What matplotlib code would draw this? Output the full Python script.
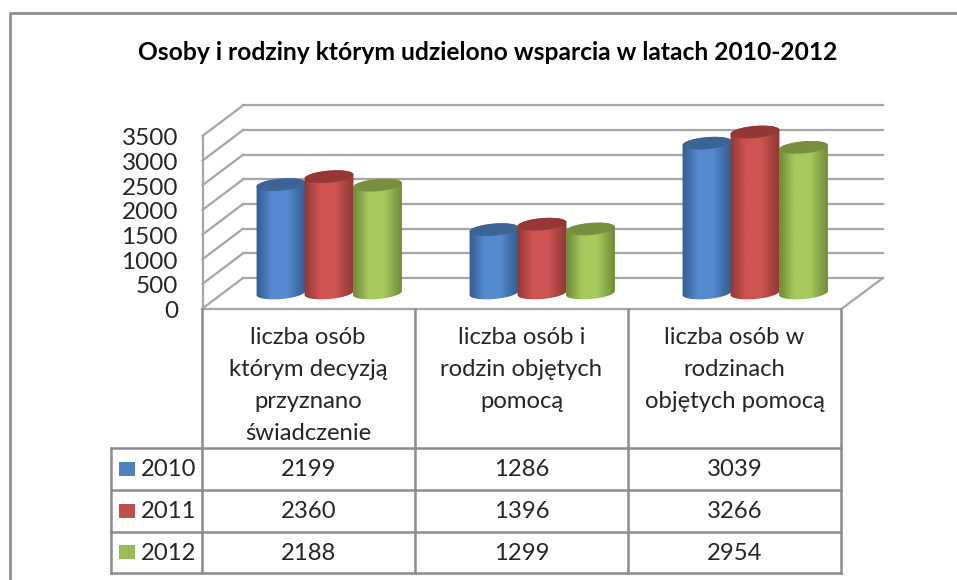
import numpy as np
import matplotlib
matplotlib.use("Agg")
import matplotlib.pyplot as plt
from matplotlib.patches import Polygon
from matplotlib.colors import LinearSegmentedColormap

plt.rcParams['font.family'] = ['Lato', 'DejaVu Sans']

title = "Osoby i rodziny którym udzielono wsparcia w latach 2010-2012"
categories = ["liczba osób\nktórym decyzją\nprzyznano\nświadczenie",
              "liczba osób i\nrodzin objętych\npomocą",
              "liczba osób w\nrodzinach\nobjętych pomocą"]
years = ["2010", "2011", "2012"]
values_2010 = [2199, 1286, 3039]
values_2011 = [2360, 1396, 3266]
values_2012 = [2188, 1299, 2954]
y_ticks = [0, 500, 1000, 1500, 2000, 2500, 3000, 3500]

W, H = 957, 580
GRID = '#a6a6a6'
TABLE = '#8c8c8c'
TEXT = '#262626'
# dark edge, mid, top cap and swatch for each series
shades = [('#2f5a8c', '#558ad0', '#3c6494', '#4f81bd'),
          ('#8c3533', '#cd5452', '#953735', '#c0504d'),
          ('#6b8436', '#a6ca5c', '#769040', '#9bbb59')]

# scale of the chart: one category = 213 px, 500 units = 24.65 px
PX_X = 213.0
PX_Y = 24.65 / 500
X0, Y0 = 329.0, 293.0

fig = plt.figure(figsize=(W / 100, H / 100), dpi=100)

# overlay in pixels for frame, walls and table
pix = fig.add_axes([0, 0, 1, 1])
pix.set_xlim(0, W)
pix.set_ylim(H, 0)
pix.axis('off')

# chart axes: x in categories, y in data values
ax = fig.add_axes([0, 0, 1, 1], zorder=2)
ax.axis('off')


def line(x, y, color=GRID, lw=1.6):
    pix.plot(x, y, color=color, lw=lw, solid_capstyle='projecting')


# outer frame
line([9.5, 9.5, W], [H, 13, 13], color='#8f8f8f', lw=2)

pix.text(488, 53, title, ha='center', va='center', fontsize=17.75,
         fontweight='bold', color='black')

# walls and floor of the 3D box
back_y = 278.0
front_y = 308.5
for v in y_ticks:
    dy = v * PX_Y
    if v > 0:
        line([243, 883], [back_y - dy, back_y - dy])
    line([202.5, 243], [front_y - dy, back_y - dy])
    pix.text(178, front_y - dy + 3, str(v), ha='right', va='center',
             fontsize=17.5, color=TEXT)
line([243, 883], [back_y, back_y])
line([202.5, 202.5], [front_y - 3500 * PX_Y, front_y])
line([842, 883], [front_y, back_y])


def ellipse(cx, cy, a=24.5, b=6.0, tilt=-5.0):
    """points of a tilted ellipse, cx in categories, cy in values, a and b in px"""
    t = np.linspace(0, 2 * np.pi, 120, endpoint=False)
    th = np.radians(tilt)
    dx = a * np.cos(t) * np.cos(th) - b * np.sin(t) * np.sin(th)
    dy = a * np.cos(t) * np.sin(th) + b * np.sin(t) * np.cos(th)
    return np.column_stack([cx + dx / PX_X, cy - dy / PX_Y])


def arc(pts, lower):
    """half of the ellipse between its left and right extremes, left to right"""
    i0, i1 = np.argmin(pts[:, 0]), np.argmax(pts[:, 0])
    roll = np.roll(pts, -i0, axis=0)
    k = (i1 - i0) % len(pts)
    a1, a2 = roll[:k + 1], np.vstack([roll[k:], roll[:1]])[::-1]
    pick = a1 if (a1[:, 1].mean() < a2[:, 1].mean()) == lower else a2
    return pick


def cylinder(cx, value, dark, mid, cap, z):
    top = ellipse(cx, value)
    hw = 26.0 / PX_X
    body = np.vstack([arc(ellipse(cx, 0), True), arc(top, False)[::-1]])
    patch = Polygon(body, closed=True, transform=ax.transData, facecolor='none', edgecolor='none')
    ax.add_patch(patch)
    cmap = LinearSegmentedColormap.from_list('c', [(0, dark), (0.32, mid), (0.62, mid), (1, dark)])
    grad = np.linspace(0, 1, 64).reshape(1, -1)
    im = ax.imshow(grad, cmap=cmap, aspect='auto', zorder=z,
                   extent=(cx - hw, cx + hw, -12 / PX_Y, value + 12 / PX_Y))
    im.set_clip_path(patch)
    ax.fill(top[:, 0], top[:, 1], color=cap, zorder=z + 0.1, lw=0)


all_values = [values_2010, values_2011, values_2012]
offsets = [-48 / PX_X, 0, 48.5 / PX_X]
for i in range(len(categories)):
    for s in range(3):
        dark, mid, cap, _ = shades[s]
        cylinder(i + offsets[s], all_values[s][i], dark, mid, cap, 3 + s)
ax.set_xlim(-X0 / PX_X, (W - X0) / PX_X)
ax.set_ylim((Y0 - H) / PX_Y, Y0 / PX_Y)

# data table under the chart
col_x = [201.5, 415, 628, 841]
row_y = [448, 489.5, 531.5, 572.5]
line([201.5, 841], [front_y, front_y], color=GRID)
for y in row_y:
    line([110.5, 841], [y, y], color=TABLE, lw=1.8)
line([110.5, 110.5], [row_y[0], row_y[3]], color=TABLE, lw=1.8)
for x in col_x:
    line([x, x], [front_y, row_y[3]], color=TABLE, lw=1.8)

header_lines = [337, 369.5, 402, 434]
for i, cat in enumerate(categories):
    xc = (col_x[i] + col_x[i + 1]) / 2
    for j, txt in enumerate(cat.split("\n")):
        pix.text(xc, header_lines[j], txt, ha='center', va='center', fontsize=17.2, color=TEXT)
    for s in range(3):
        yc = (row_y[s] + row_y[s + 1]) / 2 + 1
        pix.text(xc, yc, str(all_values[s][i]), ha='center', va='center', fontsize=17.2, color=TEXT)

for s, year in enumerate(years):
    yc = (row_y[s] + row_y[s + 1]) / 2
    pix.fill([119, 135, 135, 119], [yc - 7, yc - 7, yc + 7, yc + 7], color=shades[s][3], lw=0)
    pix.text(168.5, yc + 1, year, ha='center', va='center', fontsize=17.2, color=TEXT)

fig.savefig("out.png", dpi=100)
